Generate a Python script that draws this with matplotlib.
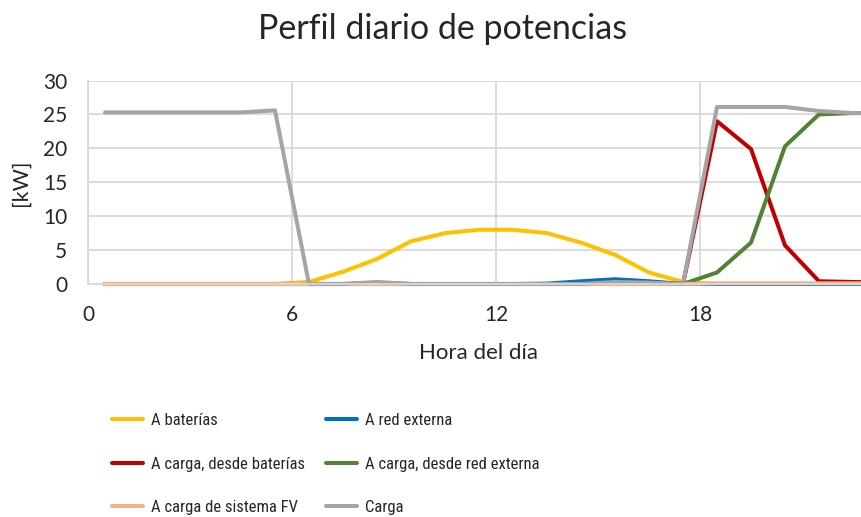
import matplotlib
matplotlib.use("Agg")
import matplotlib.pyplot as plt
import matplotlib.font_manager as fm

plt.rcParams["font.family"] = ["Lato", "DejaVu Sans"]

# ── data ──────────────────────────────────────────────────────────────────────
horas = [0.5, 1.5, 2.5, 3.5, 4.5, 5.5, 6.5, 7.5, 8.5, 9.5, 10.5, 11.5,
         12.5, 13.5, 14.5, 15.5, 16.5, 17.5, 18.5, 19.5, 20.5, 21.5, 22.5, 23.5]

a_baterias = [0, 0, 0, 0, 0, 0, 0.3, 1.8, 3.7, 6.3, 7.5, 8.0,
              8.0, 7.5, 6.1, 4.3, 1.7, 0.3, 0, 0, 0, 0, 0, 0]
a_red_externa = [0, 0, 0, 0, 0, 0, 0, 0, 0, 0, 0, 0,
                 0, 0.05, 0.4, 0.7, 0.4, 0, 0, 0, 0, 0, 0, 0]
carga_desde_baterias = [0, 0, 0, 0, 0, 0, 0, 0, 0, 0, 0, 0,
                        0, 0, 0, 0, 0, 0, 24.0, 19.9, 5.7, 0.4, 0.3, 0.2]
carga_desde_red = [0, 0, 0, 0, 0, 0, 0, 0, 0.2, 0, 0, 0,
                   0, 0, 0, 0, 0.1, 0, 1.7, 6.1, 20.3, 25.0, 25.2, 25.2]
carga_sistema_fv = [0, 0, 0, 0, 0, 0, 0, 0, 0, 0, 0, 0,
                    0, 0, 0, 0, 0, 0, 0.1, 0.1, 0.1, 0.1, 0.1, 0.1]
carga = [25.3, 25.3, 25.3, 25.3, 25.3, 25.6, 0, 0, 0.3, 0, 0, 0,
         0, 0, 0, 0.3, 0.2, 0, 26.1, 26.1, 26.1, 25.5, 25.2, 25.2]

x_ticks = [0, 6, 12, 18]
x_labels = ["0", "6", "12", "18"]
y_ticks = [0, 5, 10, 15, 20, 25, 30]

series = [
    ("A baterías", a_baterias, "#FFC000"),
    ("A red externa", a_red_externa, "#0070C0"),
    ("A carga, desde baterías", carga_desde_baterias, "#C00000"),
    ("A carga, desde red externa", carga_desde_red, "#548235"),
    ("A carga de sistema FV", carga_sistema_fv, "#F4B183"),
    ("Carga", carga, "#A5A5A5"),
]

text_c = "#262626"
grid_c = "#D9D9D9"

# the legend text in the reference is condensed; use a narrow face if there is one
avail = {f.name for f in fm.fontManager.ttflist}
narrow = next((n for n in ["Liberation Sans Narrow", "Roboto Condensed",
                           "Open Sans Condensed", "Noto Sans Condensed"]
               if n in avail), None)
if narrow:
    leg_prop = fm.FontProperties(family=narrow, size=12)
elif any(f.name == "DejaVu Sans" and f.stretch == "condensed"
         for f in fm.fontManager.ttflist):
    leg_prop = fm.FontProperties(family="DejaVu Sans", stretch="condensed", size=11.5)
else:
    leg_prop = fm.FontProperties(family="Lato", size=11.5)

fig = plt.figure(figsize=(8.61, 5.17), dpi=100)
W, H = 861, 517
# plot area runs a little past the right edge of the picture
ax = fig.add_axes([88 / W, 1 - 284 / H, 23 * 34 / W, 203.5 / H])

handles = {}
for name, vals, col in series:
    ln, = ax.plot(horas, vals, color=col, lw=2.9, clip_on=False,
                  solid_joinstyle="round", solid_capstyle="round")
    handles[name] = ln

ax.set_xlim(0, 23)
ax.set_ylim(0, 30)
ax.set_xticks(x_ticks)
ax.set_xticklabels(x_labels)
ax.set_yticks(y_ticks)
ax.grid(True, color=grid_c, lw=1.3)
ax.set_axisbelow(True)
for s in ["top", "right"]:
    ax.spines[s].set_visible(False)
for s in ["left", "bottom"]:
    ax.spines[s].set_color(grid_c)
    ax.spines[s].set_linewidth(1.3)
ax.tick_params(length=0, labelsize=15, labelcolor=text_c)
ax.tick_params(axis="y", pad=15)
ax.tick_params(axis="x", pad=15)

ax.set_xlabel("Hora del día", fontsize=16, color=text_c, labelpad=13)
ax.yaxis.set_label_coords(-67 / (23 * 34), 0.5)
ax.set_ylabel("[kW]", fontsize=15.5, color=text_c, va="center")

fig.text(443 / W, 1 - 29 / H, "Perfil diario de potencias",
         fontsize=24.5, color="#262626", ha="center", va="center")

# two one-column legends, so both columns sit where the reference has them
col1 = ["A baterías", "A carga, desde baterías", "A carga de sistema FV"]
col2 = ["A red externa", "A carga, desde red externa", "Carga"]
for names, x0 in [(col1, 112), (col2, 326)]:
    leg = fig.legend([handles[k] for k in names], names, ncol=1, frameon=False,
                     loc="upper left", bbox_to_anchor=(x0 / W, 1 - 413 / H),
                     borderaxespad=0, borderpad=0, prop=leg_prop,
                     handlelength=1.85, handletextpad=0.5,
                     labelspacing=1.72, labelcolor=text_c)

fig.savefig("out.png", dpi=100)
